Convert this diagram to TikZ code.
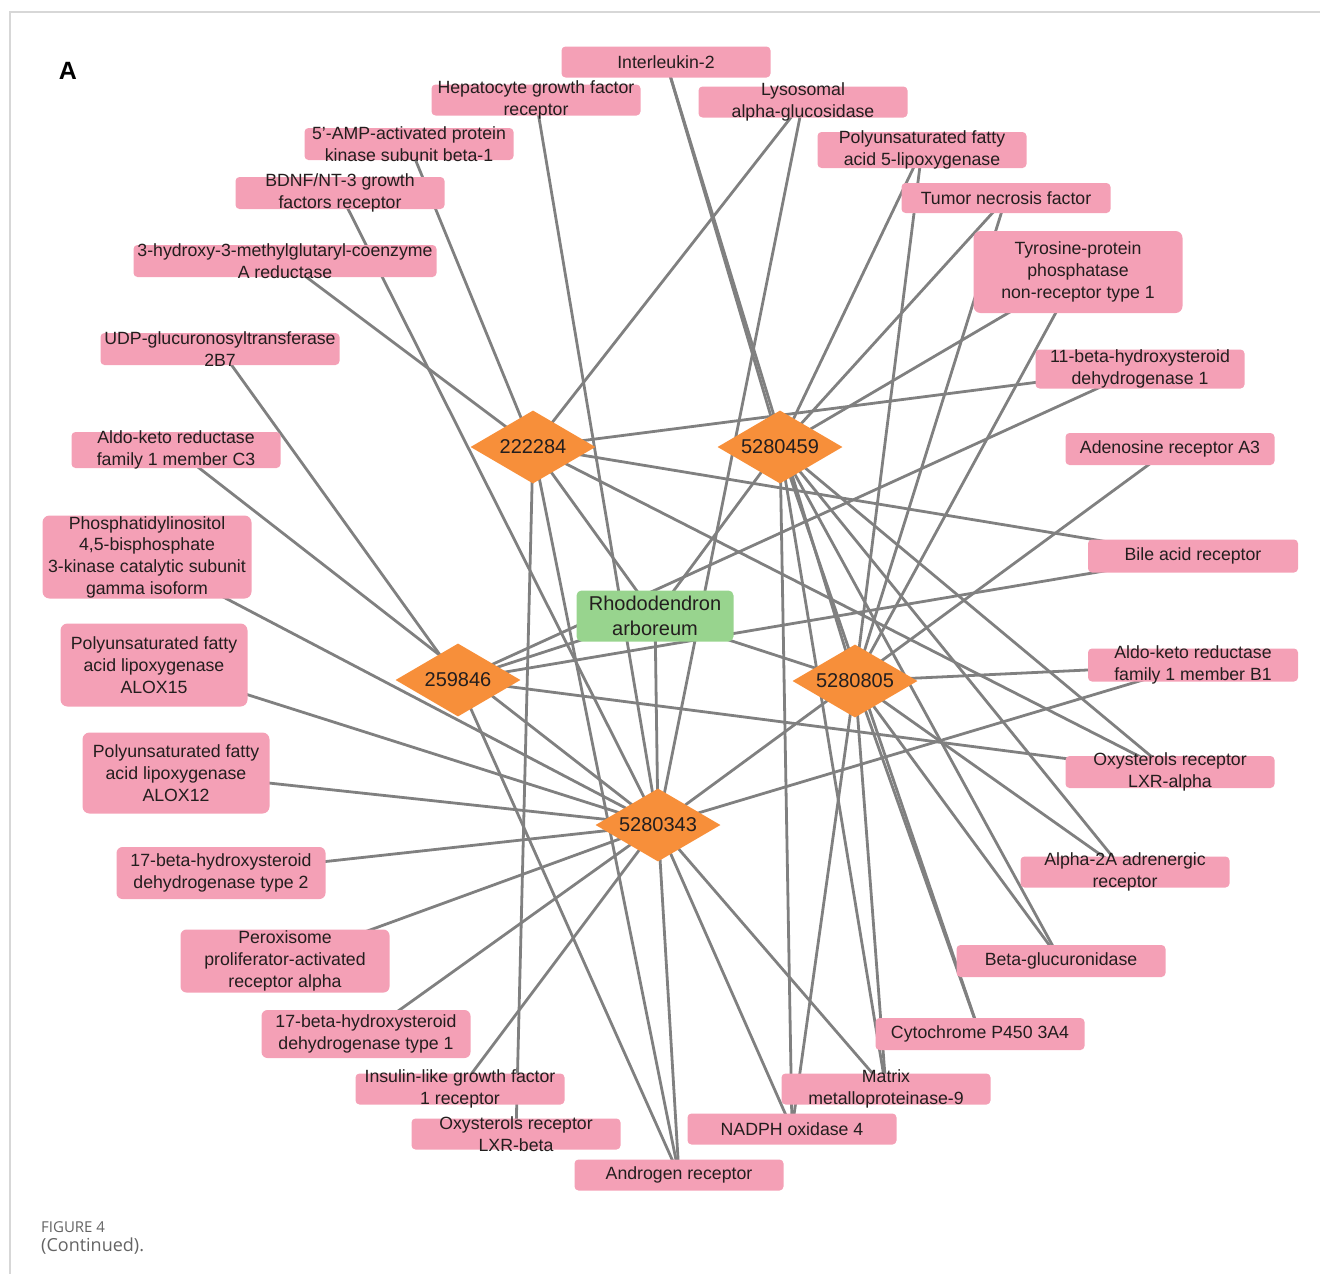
\documentclass[tikz,border=0pt]{standalone}
\usepackage{fontspec}
\setmainfont{Liberation Sans}
\newfontfamily\capfont{Open Sans}
\usetikzlibrary{shapes.geometric,backgrounds}
\definecolor{pinkbox}{RGB}{244,160,182}
\definecolor{greenbox}{RGB}{152,212,142}
\definecolor{orangedia}{RGB}{247,143,58}
\definecolor{edgegray}{RGB}{128,128,128}
\definecolor{framegray}{RGB}{215,215,215}
\definecolor{txt}{RGB}{35,30,30}
\definecolor{capgray}{RGB}{100,100,100}
\begin{document}
\begin{tikzpicture}[x=1pt,y=-1pt,
  tbox/.style={fill=pinkbox,rounded corners=4pt,minimum width=209pt,minimum height=31pt,inner sep=0pt},
  lbl/.style={inner sep=0pt,align=center,text=txt,font=\fontsize{17.7}{21.7}\selectfont},
  herb/.style={fill=greenbox,rounded corners=5pt,minimum width=157pt,minimum height=51pt,inner sep=0pt},
  herbl/.style={inner sep=0pt,align=center,text=txt,font=\fontsize{20}{24.5}\selectfont},
  comp/.style={diamond,aspect=1.7,fill=orangedia,minimum width=125pt,minimum height=73pt,inner sep=0pt,text=txt,font=\fontsize{20}{22}\selectfont},
  link/.style={draw=edgegray,line width=2.8pt}
]
\useasboundingbox (0,0) rectangle (1320,1274);
\draw[framegray,line width=1.5pt] (10,1274) -- (10,12) -- (1320,12);

% target boxes
\node[tbox] (il2) at (666,62) {};
\node[tbox] (hgfr) at (536,100) {};
\node[tbox] (lys) at (803,102) {};
\node[tbox,minimum height=32pt] (ampk) at (409,144) {};
\node[tbox,minimum height=36pt] (flox) at (922,150) {};
\node[tbox,minimum height=32pt] (bdnf) at (340,193) {};
\node[tbox,minimum height=30pt] (tnf) at (1006,198) {};
\node[tbox,minimum height=82pt,rounded corners=7pt] (ptpn) at (1078,272) {};
\node[tbox,minimum width=303pt,minimum height=32pt] (hmg) at (285,261) {};
\node[tbox,minimum width=239pt,minimum height=32pt] (udp) at (220,349) {};
\node[tbox,minimum height=39pt] (hsdb) at (1140,369) {};
\node[tbox,minimum height=36pt] (akrc) at (176,450) {};
\node[tbox,minimum height=32pt] (ado) at (1170,449) {};
\node[tbox,minimum height=83pt,rounded corners=7pt] (pik) at (147,557) {};
\node[tbox,minimum width=210pt,minimum height=33pt] (bile) at (1193,556) {};
\node[tbox,minimum width=187pt,minimum height=83pt,rounded corners=7pt] (alxf) at (154,665) {};
\node[tbox,minimum width=210pt,minimum height=33pt] (akrb) at (1193,665) {};
\node[tbox,minimum width=187pt,minimum height=81pt,rounded corners=7pt] (alxt) at (176,773) {};
\node[tbox,minimum height=32pt] (lxra) at (1170,772) {};
\node[tbox,minimum height=52pt,rounded corners=6pt] (hsdtwo) at (221,873) {};
\node[tbox,minimum height=31pt] (adra) at (1125,872) {};
\node[tbox,minimum height=63pt,rounded corners=6pt] (ppar) at (285,961) {};
\node[tbox,minimum height=32pt] (gusb) at (1061,961) {};
\node[tbox,minimum height=48pt,rounded corners=6pt] (hsdone) at (366,1034) {};
\node[tbox,minimum height=32pt] (cyp) at (980,1034) {};
\node[tbox,minimum height=31pt] (igf) at (460,1089) {};
\node[tbox,minimum height=31pt] (mmp) at (886,1089) {};
\node[tbox,minimum height=31pt] (lxrb) at (516,1134) {};
\node[tbox,minimum height=31pt] (nox) at (792,1129) {};
\node[tbox,minimum height=31pt] (ar) at (679,1175) {};

% herb and compounds
\node[herb] (rh) at (655,616) {};
\node[comp] (c222) at (533,447) {222284};
\node[comp] (c459) at (780,447) {5280459};
\node[comp] (c259) at (458,680) {259846};
\node[comp] (c805) at (855,681) {5280805};
\node[comp] (c343) at (658,825) {5280343};

% connectors
\begin{scope}[on background layer]
\foreach \a/\b in {rh/c222,rh/c259,rh/c459,rh/c805,rh/c343,
  c222/hmg,c222/ampk,c222/lys,c222/hsdb,c222/bile,c222/lxra,c222/lxrb,c222/ar,
  c259/udp,c259/hsdb,c259/bile,c259/lxra,c259/ar,
  c459/il2,c459/flox,c459/tnf,c459/ptpn,c459/lxra,c459/adra,c459/gusb,c459/cyp,c459/mmp,c459/nox,
  c805/il2,c805/flox,c805/tnf,c805/ptpn,c805/akrb,c805/adra,c805/gusb,c805/cyp,c805/mmp,c805/nox,
  c343/bdnf,c343/hgfr,c343/lys,c343/pik,c343/alxf,c343/alxt,c343/hsdtwo,c343/ppar,c343/hsdone,
  c343/igf,c343/ar,c343/nox,c343/mmp,c343/akrb,c343/ado,c343/akrc}
  \draw[link] (\a.center) -- (\b.center);
\end{scope}

% labels
\node[lbl] (il2t) at (il2) {Interleukin-2};
\node[lbl] (hgfrt) at (hgfr) {Hepatocyte growth factor\\receptor};
\node[lbl] (lyst) at (lys) {Lysosomal\\alpha-glucosidase};
\node[lbl] (ampkt) at (ampk) {5'-AMP-activated protein\\kinase subunit beta-1};
\node[lbl] (floxt) at (flox) {Polyunsaturated fatty\\acid 5-lipoxygenase};
\node[lbl] (bdnft) at (bdnf) {BDNF/NT-3 growth\\factors receptor};
\node[lbl] (tnft) at (tnf) {Tumor necrosis factor};
\node[lbl] (ptpnt) at (ptpn) {Tyrosine-protein\\phosphatase\\non-receptor type 1};
\node[lbl] (hmgt) at (hmg) {3-hydroxy-3-methylglutaryl-coenzyme\\A reductase};
\node[lbl] (udpt) at (udp) {UDP-glucuronosyltransferase\\2B7};
\node[lbl] (hsdbt) at (hsdb) {11-beta-hydroxysteroid\\dehydrogenase 1};
\node[lbl] (akrct) at (akrc) {Aldo-keto reductase\\family 1 member C3};
\node[lbl] (adot) at (ado) {Adenosine receptor A3};
\node[lbl] (pikt) at (pik) {Phosphatidylinositol\\4,5-bisphosphate\\3-kinase catalytic subunit\\gamma isoform};
\node[lbl] (bilet) at (bile) {Bile acid receptor};
\node[lbl] (alxft) at (alxf) {Polyunsaturated fatty\\acid lipoxygenase\\ALOX15};
\node[lbl] (akrbt) at (akrb) {Aldo-keto reductase\\family 1 member B1};
\node[lbl] (alxtt) at (alxt) {Polyunsaturated fatty\\acid lipoxygenase\\ALOX12};
\node[lbl] (lxrat) at (lxra) {Oxysterols receptor\\LXR-alpha};
\node[lbl] (hsdtwot) at (hsdtwo) {17-beta-hydroxysteroid\\dehydrogenase type 2};
\node[lbl] (adrat) at (adra) {Alpha-2A adrenergic\\receptor};
\node[lbl] (ppart) at (ppar) {Peroxisome\\proliferator-activated\\receptor alpha};
\node[lbl] (gusbt) at (gusb) {Beta-glucuronidase};
\node[lbl] (hsdonet) at (hsdone) {17-beta-hydroxysteroid\\dehydrogenase type 1};
\node[lbl] (cypt) at (cyp) {Cytochrome P450 3A4};
\node[lbl] (igft) at (igf) {Insulin-like growth factor\\1 receptor};
\node[lbl] (mmpt) at (mmp) {Matrix\\metalloproteinase-9};
\node[lbl] (lxrbt) at (lxrb) {Oxysterols receptor\\LXR-beta};
\node[lbl] (noxt) at (nox) {NADPH oxidase 4};
\node[lbl] (art) at (ar) {Androgen receptor};
\node[herbl] (rht) at (rh) {Rhododendron\\arboreum};

% panel letter and caption
\node[font=\fontsize{25}{25}\selectfont\bfseries] (panelA) at (68,71) {A};
\node[anchor=west,inner sep=0pt,text=capgray,font=\capfont\fontsize{15}{15}\selectfont] (figlbl) at (41,1227) {FIGURE 4};
\node[anchor=west,inner sep=0pt,text=capgray,font=\capfont\fontsize{18}{18}\selectfont] (contlbl) at (41,1246) {(Continued).};
\end{tikzpicture}
\end{document}
